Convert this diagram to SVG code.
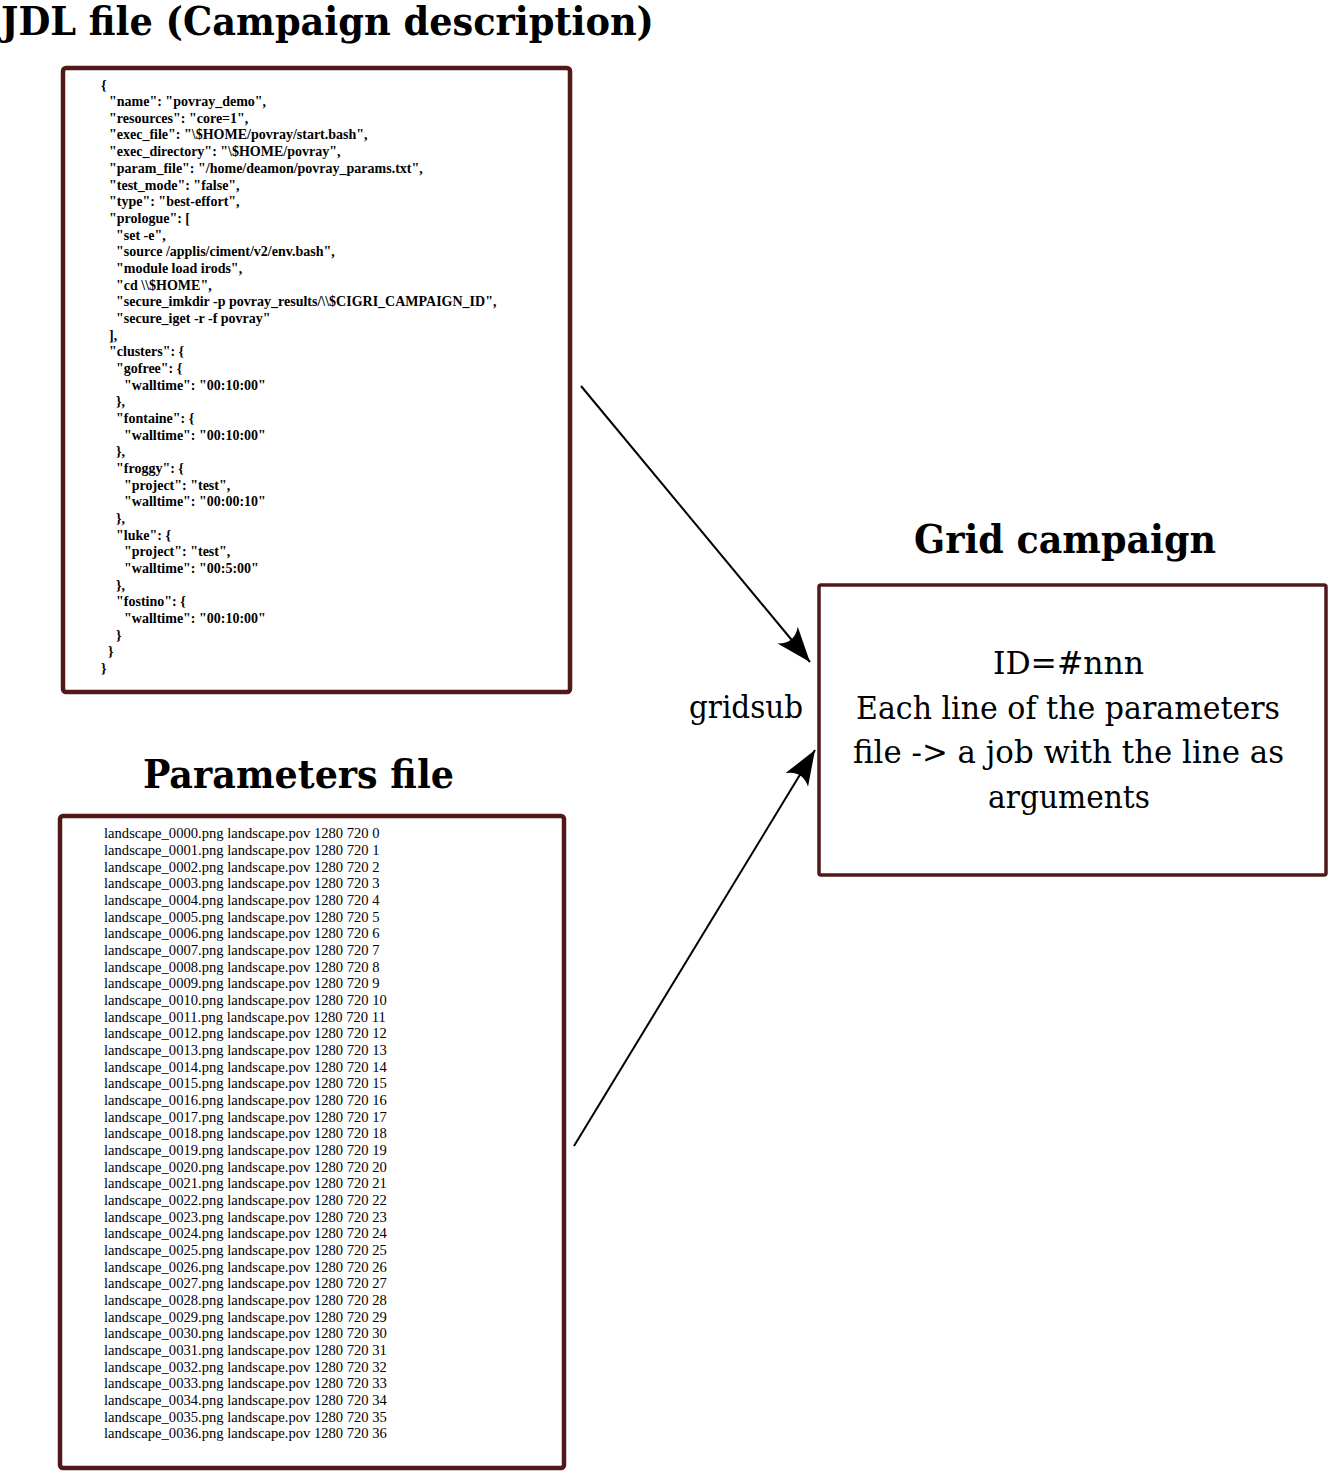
<svg xmlns="http://www.w3.org/2000/svg" width="1328" height="1472" viewBox="0 0 1328 1472">
<style>
.box{fill:#ffffff;stroke:#521818;stroke-width:4.5}
.title{font-family:"DejaVu Serif",serif;font-weight:bold;font-stretch:condensed;font-size:39px;fill:#000}
.jdl{font-family:"Liberation Serif",serif;font-weight:bold;font-size:14px;fill:#000}
.par{font-family:"Liberation Serif",serif;font-size:14.6px;fill:#000}
.body{font-family:"DejaVu Serif",serif;font-stretch:condensed;font-size:32px;fill:#000}
.conn{stroke:#000;stroke-width:2;fill:none}
</style>
<defs>
<marker id="ah" markerUnits="userSpaceOnUse" markerWidth="40" markerHeight="40" viewBox="-30 -15 32 30" refX="0" refY="0" orient="auto">
<path d="M0 0 L-28 -10.5 Q-19 0 -28 10.5 Z" fill="#000"/>
</marker>
</defs>
<rect width="1328" height="1472" fill="#fff"/>

<g id="jdl">
<text class="title" x="1" y="35" textLength="653" lengthAdjust="spacingAndGlyphs">JDL file (Campaign description)</text>
<rect class="box" x="63" y="68" width="507" height="624" rx="3"/>
<text class="jdl">
<tspan x="101" y="90">{</tspan>
<tspan x="109" y="106">"name": "povray_demo",</tspan>
<tspan x="109" y="123">"resources": "core=1",</tspan>
<tspan x="109" y="139">"exec_file": "\$HOME/povray/start.bash",</tspan>
<tspan x="109" y="156">"exec_directory": "\$HOME/povray",</tspan>
<tspan x="109" y="173">"param_file": "/home/deamon/povray_params.txt",</tspan>
<tspan x="109" y="190">"test_mode": "false",</tspan>
<tspan x="109" y="206">"type": "best-effort",</tspan>
<tspan x="109" y="223">"prologue": [</tspan>
<tspan x="116" y="240">"set -e",</tspan>
<tspan x="116" y="256">"source /applis/ciment/v2/env.bash",</tspan>
<tspan x="116" y="273">"module load irods",</tspan>
<tspan x="116" y="290">"cd \\$HOME",</tspan>
<tspan x="116" y="306">"secure_imkdir -p povray_results/\\$CIGRI_CAMPAIGN_ID",</tspan>
<tspan x="116" y="323">"secure_iget -r -f povray"</tspan>
<tspan x="109" y="340">],</tspan>
<tspan x="109" y="356">"clusters": {</tspan>
<tspan x="116" y="373">"gofree": {</tspan>
<tspan x="124" y="390">"walltime": "00:10:00"</tspan>
<tspan x="116" y="406">},</tspan>
<tspan x="116" y="423">"fontaine": {</tspan>
<tspan x="124" y="440">"walltime": "00:10:00"</tspan>
<tspan x="116" y="456">},</tspan>
<tspan x="116" y="473">"froggy": {</tspan>
<tspan x="124" y="490">"project": "test",</tspan>
<tspan x="124" y="506">"walltime": "00:00:10"</tspan>
<tspan x="116" y="523">},</tspan>
<tspan x="116" y="540">"luke": {</tspan>
<tspan x="124" y="556">"project": "test",</tspan>
<tspan x="124" y="573">"walltime": "00:5:00"</tspan>
<tspan x="116" y="590">},</tspan>
<tspan x="116" y="606">"fostino": {</tspan>
<tspan x="124" y="623">"walltime": "00:10:00"</tspan>
<tspan x="116" y="640">}</tspan>
<tspan x="108" y="656">}</tspan>
<tspan x="101" y="673">}</tspan>
</text>
</g>

<g id="params">
<text class="title" x="143" y="788" textLength="311" lengthAdjust="spacingAndGlyphs">Parameters file</text>
<rect class="box" x="60" y="816" width="504" height="652" rx="3"/>
<text class="par">
<tspan x="104" y="838">landscape_0000.png landscape.pov 1280 720 0</tspan>
<tspan x="104" y="855">landscape_0001.png landscape.pov 1280 720 1</tspan>
<tspan x="104" y="872">landscape_0002.png landscape.pov 1280 720 2</tspan>
<tspan x="104" y="888">landscape_0003.png landscape.pov 1280 720 3</tspan>
<tspan x="104" y="905">landscape_0004.png landscape.pov 1280 720 4</tspan>
<tspan x="104" y="922">landscape_0005.png landscape.pov 1280 720 5</tspan>
<tspan x="104" y="938">landscape_0006.png landscape.pov 1280 720 6</tspan>
<tspan x="104" y="955">landscape_0007.png landscape.pov 1280 720 7</tspan>
<tspan x="104" y="972">landscape_0008.png landscape.pov 1280 720 8</tspan>
<tspan x="104" y="988">landscape_0009.png landscape.pov 1280 720 9</tspan>
<tspan x="104" y="1005">landscape_0010.png landscape.pov 1280 720 10</tspan>
<tspan x="104" y="1022">landscape_0011.png landscape.pov 1280 720 11</tspan>
<tspan x="104" y="1038">landscape_0012.png landscape.pov 1280 720 12</tspan>
<tspan x="104" y="1055">landscape_0013.png landscape.pov 1280 720 13</tspan>
<tspan x="104" y="1072">landscape_0014.png landscape.pov 1280 720 14</tspan>
<tspan x="104" y="1088">landscape_0015.png landscape.pov 1280 720 15</tspan>
<tspan x="104" y="1105">landscape_0016.png landscape.pov 1280 720 16</tspan>
<tspan x="104" y="1122">landscape_0017.png landscape.pov 1280 720 17</tspan>
<tspan x="104" y="1138">landscape_0018.png landscape.pov 1280 720 18</tspan>
<tspan x="104" y="1155">landscape_0019.png landscape.pov 1280 720 19</tspan>
<tspan x="104" y="1172">landscape_0020.png landscape.pov 1280 720 20</tspan>
<tspan x="104" y="1188">landscape_0021.png landscape.pov 1280 720 21</tspan>
<tspan x="104" y="1205">landscape_0022.png landscape.pov 1280 720 22</tspan>
<tspan x="104" y="1222">landscape_0023.png landscape.pov 1280 720 23</tspan>
<tspan x="104" y="1238">landscape_0024.png landscape.pov 1280 720 24</tspan>
<tspan x="104" y="1255">landscape_0025.png landscape.pov 1280 720 25</tspan>
<tspan x="104" y="1272">landscape_0026.png landscape.pov 1280 720 26</tspan>
<tspan x="104" y="1288">landscape_0027.png landscape.pov 1280 720 27</tspan>
<tspan x="104" y="1305">landscape_0028.png landscape.pov 1280 720 28</tspan>
<tspan x="104" y="1322">landscape_0029.png landscape.pov 1280 720 29</tspan>
<tspan x="104" y="1338">landscape_0030.png landscape.pov 1280 720 30</tspan>
<tspan x="104" y="1355">landscape_0031.png landscape.pov 1280 720 31</tspan>
<tspan x="104" y="1372">landscape_0032.png landscape.pov 1280 720 32</tspan>
<tspan x="104" y="1388">landscape_0033.png landscape.pov 1280 720 33</tspan>
<tspan x="104" y="1405">landscape_0034.png landscape.pov 1280 720 34</tspan>
<tspan x="104" y="1422">landscape_0035.png landscape.pov 1280 720 35</tspan>
<tspan x="104" y="1438">landscape_0036.png landscape.pov 1280 720 36</tspan>
</text>
</g>

<g id="campaign">
<text class="title" x="914" y="553" textLength="302" lengthAdjust="spacingAndGlyphs">Grid campaign</text>
<rect class="box" x="819" y="585" width="507" height="290" rx="2" style="stroke-width:3.5"/>
<text class="body">
<tspan x="993" y="674" textLength="151" lengthAdjust="spacingAndGlyphs">ID=#nnn</tspan>
<tspan x="856" y="719" textLength="424" lengthAdjust="spacingAndGlyphs">Each line of the parameters</tspan>
<tspan x="853" y="763" textLength="431" lengthAdjust="spacingAndGlyphs">file -&gt; a job with the line as</tspan>
<tspan x="988" y="808" textLength="162" lengthAdjust="spacingAndGlyphs">arguments</tspan>
</text>
</g>

<g id="connectors">
<line class="conn" x1="581" y1="386" x2="810" y2="662" marker-end="url(#ah)"/>
<line class="conn" x1="574" y1="1146" x2="815" y2="750" marker-end="url(#ah)"/>
<text class="body" x="689" y="718" textLength="114" lengthAdjust="spacingAndGlyphs">gridsub</text>
</g>
</svg>
